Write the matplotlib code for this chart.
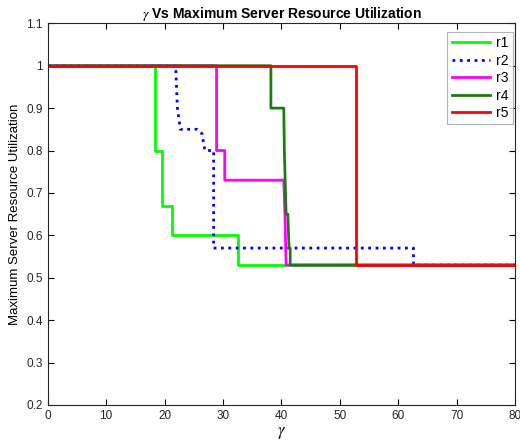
import numpy as np
from matplotlib import pyplot as plt

plt.rcParams['font.family'] = ['Liberation Sans', 'DejaVu Sans']
plt.rcParams['mathtext.fontset'] = 'stix'

# gamma values and max utilization for each run
r1_x = [0, 18.3, 18.3, 19.5, 19.5, 21.2, 21.2, 32.5, 32.5, 80]
r1_y = [1, 1, 0.8, 0.8, 0.67, 0.67, 0.6, 0.6, 0.53, 0.53]

r2_x = [0, 21.9, 22.2, 22.7, 25.6, 26.4, 26.9, 28.4, 28.4, 62.6, 62.6, 80]
r2_y = [1, 1, 0.9, 0.85, 0.85, 0.84, 0.8, 0.8, 0.57, 0.57, 0.53, 0.53]

r3_x = [0, 28.9, 28.9, 30.3, 30.3, 40.4, 40.6, 40.8, 80]
r3_y = [1, 1, 0.8, 0.8, 0.73, 0.73, 0.65, 0.53, 0.53]

r4_x = [0, 38.2, 38.2, 40.4, 40.5, 40.8, 41.1, 41.3, 41.5, 41.5, 80]
r4_y = [1, 1, 0.9, 0.9, 0.8, 0.65, 0.65, 0.57, 0.57, 0.53, 0.53]

r5_x = [0, 52.7, 52.7, 80]
r5_y = [1, 1, 0.53, 0.53]

yticks = np.round(np.arange(0.2, 1.11, 0.1), 1)
ytick_labels = ['0.2', '0.3', '0.4', '0.5', '0.6', '0.7', '0.8', '0.9', '1', '1.1']

fig = plt.figure(figsize=(5.2, 4.43), dpi=100)
ax = fig.add_axes([0.0917, 0.0858, 0.899, 0.8616])

ax.plot(r1_x, r1_y, color='#00ff00', lw=2, label='r1')
ax.plot(r2_x, r2_y, color='#0000ff', lw=2, ls=':', label='r2')
ax.plot(r3_x, r3_y, color='#ff00ff', lw=2, label='r3')
ax.plot(r4_x, r4_y, color='#1e7a12', lw=2, label='r4')
ax.plot(r5_x, r5_y, color='#ff0000', lw=2, label='r5')

ax.set_xlim(0, 80)
ax.set_ylim(0.2, 1.1)
ax.set_xticks(np.arange(0, 81, 10))
ax.set_yticks(yticks)
ax.set_yticklabels(ytick_labels)
ax.tick_params(direction='in', top=True, right=True, labelsize=8.5,
               labelcolor='#262626', length=4, width=0.8)
for sp in ax.spines.values():
    sp.set_color('#262626')
    sp.set_linewidth(0.8)

ax.set_xlabel(r'$\gamma$', fontsize=12, labelpad=2)
ax.set_ylabel('Maximum Server Resource Utilization', fontsize=9.5, labelpad=4)
ax.set_title(r'$\gamma$ Vs Maximum Server Resource Utilization',
             fontsize=10, fontweight='bold', pad=4)

leg = ax.legend(loc='upper right', fontsize=10, fancybox=False,
                handlelength=2.8, handletextpad=0.4, labelspacing=0.25,
                borderpad=0.3, borderaxespad=0, bbox_to_anchor=(0.995, 0.977))
leg.get_frame().set_edgecolor('#a0a0a0')
leg.get_frame().set_linewidth(0.8)

plt.savefig('out.png', dpi=100)
